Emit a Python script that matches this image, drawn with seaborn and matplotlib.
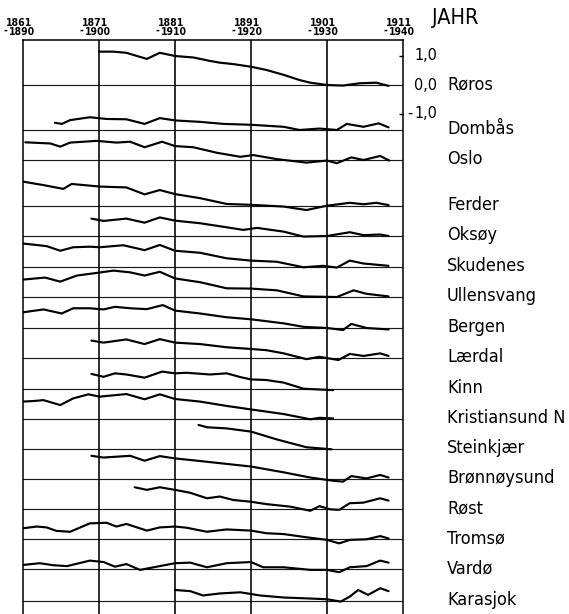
import numpy as np
import pandas as pd
import matplotlib
matplotlib.use("Agg")
import matplotlib.pyplot as plt
import seaborn as sns

# --- stations, top to bottom ---------------------------------------------
stations = ["Røros", "Dombås", "Oslo", "Ferder", "Oksøy", "Skudenes",
            "Ullensvang", "Bergen", "Lærdal", "Kinn", "Kristiansund N",
            "Steinkjær", "Brønnøysund", "Røst", "Tromsø", "Vardø", "Karasjok"]

# 30-year periods (first year / last year)
period_start = [1861, 1871, 1881, 1891, 1901, 1911]
period_end = [1890, 1900, 1910, 1920, 1930, 1940]

# scale labels on the right
scale_values = [1.0, 0.0, -1.0]
scale_labels = ["1,0", "0,0", "1,0"]

# --- moving 30-year means, deviation in °C (x = first year of period) -------
roros_years = [1871.0, 1872.9, 1874.6, 1876.0, 1877.3, 1879.0, 1881.0, 1883.4, 1885.6, 1886.9,
               1888.7, 1891.0, 1893.0, 1895.3, 1897.4, 1898.8, 1901.0, 1903.1, 1905.3, 1907.5, 1909.1]
roros_dev = [1.15, 1.15, 1.11, 1.00, 0.90, 1.11, 1.00, 0.95, 0.83, 0.77,
             0.72, 0.63, 0.52, 0.35, 0.17, 0.08, 0.00, -0.02, 0.06, 0.08, -0.03]

dombas_years = [1865.2, 1866.1, 1867.2, 1869.8, 1872.0, 1874.6, 1877.0, 1879.0, 1881.0, 1884.3,
                1887.4, 1891.0, 1895.3, 1897.4, 1900.0, 1902.3, 1903.6, 1905.8, 1907.8, 1909.1]
dombas_dev = [0.25, 0.21, 0.34, 0.44, 0.38, 0.37, 0.21, 0.41, 0.33, 0.28,
              0.21, 0.18, 0.11, 0.00, 0.05, 0.00, 0.21, 0.11, 0.23, 0.09]

oslo_years = [1861.3, 1864.6, 1865.9, 1867.2, 1870.7, 1873.3, 1875.1, 1877.0, 1879.3, 1881.0, 1883.4,
              1886.5, 1889.6, 1891.3, 1894.4, 1898.3, 1901.0, 1902.3, 1904.2, 1905.8, 1908.0, 1909.2]
oslo_dev = [0.61, 0.57, 0.46, 0.60, 0.66, 0.60, 0.63, 0.44, 0.63, 0.48, 0.44,
            0.25, 0.11, 0.17, 0.03, -0.09, -0.02, -0.11, 0.09, 0.00, 0.14, -0.02]

ferder_years = [1861.0, 1863.7, 1866.3, 1867.4, 1871.1, 1874.6, 1877.0, 1879.0, 1881.0, 1884.3,
                1887.8, 1891.0, 1895.3, 1898.3, 1901.0, 1904.0, 1905.8, 1907.5, 1909.1]
ferder_dev = [0.83, 0.71, 0.58, 0.75, 0.66, 0.63, 0.39, 0.54, 0.40, 0.26,
              0.06, 0.03, -0.03, -0.15, 0.00, 0.10, 0.05, 0.10, 0.02]

oksoy_years = [1870.0, 1871.6, 1874.6, 1877.0, 1879.0, 1881.0, 1884.3, 1887.8, 1890.0,
               1891.8, 1895.3, 1897.9, 1901.0, 1904.0, 1905.8, 1908.0, 1909.1]
oksoy_dev = [0.60, 0.52, 0.60, 0.46, 0.64, 0.53, 0.44, 0.30, 0.21,
             0.28, 0.15, -0.02, 0.00, 0.13, 0.03, 0.05, 0.00]

skudenes_years = [1861.0, 1864.1, 1865.9, 1867.6, 1869.8, 1871.1, 1874.2, 1877.0, 1879.0, 1881.0,
                  1884.3, 1887.8, 1891.0, 1894.4, 1897.9, 1900.5, 1902.3, 1904.0, 1905.8, 1909.1]
skudenes_dev = [0.80, 0.71, 0.55, 0.67, 0.69, 0.67, 0.74, 0.57, 0.75, 0.55,
                0.48, 0.29, 0.21, 0.17, -0.02, 0.03, -0.03, 0.21, 0.11, 0.03]

ullensvang_years = [1861.0, 1863.9, 1865.9, 1868.1, 1870.7, 1872.9, 1875.1, 1877.0, 1879.0, 1881.0,
                    1884.3, 1887.8, 1891.0, 1894.4, 1897.9, 1902.3, 1904.5, 1906.2, 1909.1]
ullensvang_dev = [0.60, 0.67, 0.53, 0.74, 0.83, 0.91, 0.85, 0.74, 0.87, 0.64,
                  0.51, 0.30, 0.29, 0.23, 0.02, 0.00, 0.23, 0.11, 0.02]

bergen_years = [1861.0, 1863.7, 1866.1, 1867.6, 1869.8, 1871.6, 1873.1, 1875.1, 1877.3, 1879.4, 1881.0,
                1884.3, 1887.8, 1891.0, 1895.3, 1897.9, 1901.0, 1903.1, 1904.2, 1906.2, 1909.1]
bergen_dev = [0.53, 0.63, 0.49, 0.67, 0.67, 0.63, 0.72, 0.67, 0.64, 0.78, 0.59,
              0.49, 0.36, 0.29, 0.15, 0.03, -0.01, -0.08, 0.13, -0.01, -0.06]

laerdal_years = [1870.0, 1871.6, 1874.6, 1877.0, 1879.0, 1881.0, 1884.3, 1887.8, 1891.0,
                 1893.0, 1895.3, 1898.3, 1900.0, 1902.5, 1904.0, 1905.8, 1908.0, 1909.1]
laerdal_dev = [0.59, 0.52, 0.63, 0.47, 0.64, 0.52, 0.47, 0.36, 0.30,
               0.26, 0.15, -0.05, 0.03, -0.08, 0.13, 0.06, 0.15, 0.06]

kinn_years = [1870.0, 1871.6, 1873.1, 1874.6, 1877.0, 1879.3, 1881.0, 1882.5,
              1885.6, 1887.8, 1889.6, 1891.0, 1893.0, 1895.3, 1897.9, 1901.8]
kinn_dev = [0.51, 0.41, 0.53, 0.49, 0.38, 0.59, 0.53, 0.55,
            0.49, 0.53, 0.40, 0.32, 0.30, 0.21, 0.00, -0.05]

kristiansund_years = [1861.0, 1862.4, 1863.7, 1865.9, 1867.6, 1869.6, 1871.1, 1874.6, 1877.0,
                      1879.0, 1881.0, 1884.3, 1887.8, 1891.0, 1895.3, 1898.8, 1900.0, 1901.8]
kristiansund_dev = [0.59, 0.61, 0.64, 0.47, 0.70, 0.84, 0.76, 0.85, 0.67,
                    0.84, 0.68, 0.59, 0.44, 0.32, 0.16, -0.02, 0.03, 0.01]

steinkjaer_years = [1884.1, 1885.2, 1887.8, 1891.0, 1894.4, 1898.3, 1901.6]
steinkjaer_dev = [0.83, 0.75, 0.71, 0.60, 0.33, 0.06, -0.01]

bronnoysund_years = [1870.0, 1871.6, 1875.1, 1877.0, 1879.0, 1881.0, 1884.3, 1887.8, 1891.0,
                     1895.3, 1898.8, 1901.8, 1903.1, 1904.2, 1906.2, 1908.0, 1909.1]
bronnoysund_dev = [0.80, 0.74, 0.80, 0.63, 0.79, 0.71, 0.62, 0.52, 0.43,
                   0.23, 0.05, -0.06, -0.09, 0.10, 0.02, 0.14, 0.05]

rost_years = [1875.7, 1877.3, 1879.0, 1881.0, 1883.0, 1885.2, 1886.9, 1888.7, 1891.0, 1893.0,
              1896.2, 1898.8, 1900.0, 1901.4, 1902.6, 1904.0, 1905.8, 1908.0, 1909.1]
rost_dev = [0.76, 0.67, 0.76, 0.67, 0.57, 0.38, 0.44, 0.32, 0.26, 0.18,
            0.09, -0.05, 0.11, 0.00, -0.02, 0.21, 0.23, 0.38, 0.30]

tromso_years = [1861.0, 1862.8, 1864.1, 1865.4, 1867.2, 1869.8, 1872.0, 1873.3, 1874.6, 1877.3,
                1879.0, 1881.0, 1882.5, 1885.2, 1887.8, 1891.0, 1893.0, 1895.3, 1898.3, 1901.0,
                1902.6, 1904.0, 1906.2, 1908.0, 1909.1]
tromso_dev = [0.38, 0.44, 0.41, 0.29, 0.26, 0.55, 0.57, 0.44, 0.53, 0.30,
              0.41, 0.44, 0.40, 0.26, 0.34, 0.30, 0.21, 0.18, 0.07, -0.02,
              -0.14, -0.02, 0.00, 0.11, 0.03]

vardo_years = [1861.0, 1863.2, 1865.0, 1866.8, 1869.8, 1871.6, 1873.1, 1874.6, 1876.4, 1878.6,
               1881.0, 1883.0, 1885.2, 1887.8, 1891.0, 1892.6, 1895.3, 1898.8, 1901.0, 1902.6,
               1904.0, 1906.2, 1908.0, 1909.1]
vardo_dev = [0.15, 0.21, 0.14, 0.11, 0.30, 0.25, 0.09, 0.18, -0.02, 0.09,
             0.21, 0.23, 0.07, 0.21, 0.25, 0.07, 0.07, -0.02, -0.02, -0.10,
             0.07, 0.11, 0.30, 0.23]

karasjok_years = [1881.0, 1883.0, 1884.7, 1886.9, 1889.6, 1892.2, 1895.3, 1898.3, 1901.0,
                  1902.8, 1904.0, 1905.1, 1906.4, 1908.0, 1909.1]
karasjok_dev = [0.37, 0.33, 0.18, 0.25, 0.29, 0.18, 0.11, 0.08, 0.05,
                -0.03, 0.14, 0.37, 0.20, 0.43, 0.33]

series_years = [roros_years, dombas_years, oslo_years, ferder_years, oksoy_years,
                skudenes_years, ullensvang_years, bergen_years, laerdal_years, kinn_years,
                kristiansund_years, steinkjaer_years, bronnoysund_years, rost_years,
                tromso_years, vardo_years, karasjok_years]
series_dev = [roros_dev, dombas_dev, oslo_dev, ferder_dev, oksoy_dev,
              skudenes_dev, ullensvang_dev, bergen_dev, laerdal_dev, kinn_dev,
              kristiansund_dev, steinkjaer_dev, bronnoysund_dev, rost_dev,
              tromso_dev, vardo_dev, karasjok_dev]

# --- layout (pixels on a 569 x 614 canvas) ---------------------------------
W, H = 569, 614
FRAME_LEFT, FRAME_RIGHT, FRAME_TOP = 23, 403, 40
PX_PER_DEG = 29.0
ROW_REF = 85.0                      # baseline of the first row
row_px = [85, 130, 160, 205.7, 236, 266.7, 297, 327.7, 357.7, 388.7,
          418.7, 449, 479, 509.3, 539.3, 569.3, 600.7]
row_offset = [(ROW_REF - p) / PX_PER_DEG for p in row_px]

sns.set_theme(style="white")
plt.rcParams["font.family"] = ["DejaVu Sans"]
FONT = dict(family=["DejaVu Sans"], fontstretch="condensed", color="black")

fig = plt.figure(figsize=(W / 100, H / 100), dpi=100)
fig.patch.set_facecolor("white")
ax = fig.add_axes([FRAME_LEFT / W, 0, (FRAME_RIGHT - FRAME_LEFT) / W, (H - FRAME_TOP) / H])
ax.set_facecolor("white")

records = []
for name, yrs, dev, off in zip(stations, series_years, series_dev, row_offset):
    for yr, d in zip(yrs, dev):
        records.append((name, yr, off + d))
df = pd.DataFrame(records, columns=["station", "year", "value"])

# reference baselines and decade grid
for off in row_offset:
    ax.axhline(off, color="#1a1a1a", lw=0.85, zorder=1)
for yr in period_start[1:-1]:
    ax.axvline(yr, color="black", lw=1.15, zorder=1)

sns.lineplot(data=df, x="year", y="value", units="station", estimator=None,
             sort=False, color="black", lw=1.55, ax=ax, legend=False, zorder=3)

ax.set_xlim(period_start[0], period_start[-1])
ax.set_ylim((ROW_REF - H) / PX_PER_DEG, (ROW_REF - FRAME_TOP) / PX_PER_DEG)
ax.set_xlabel("")
ax.set_ylabel("")
ax.set_xticks([])
for side in ("left", "right", "top"):
    ax.spines[side].set_visible(True)
    ax.spines[side].set_color("black")
    ax.spines[side].set_linewidth(1.1)
ax.spines["bottom"].set_visible(False)
ax.yaxis.tick_right()
ax.set_yticks([v for v in scale_values if v != 0])
ax.set_yticklabels([])
ax.tick_params(axis="y", which="both", direction="in", length=3, width=1.0,
               color="black", right=True, left=False)


def year_px(yr):
    return FRAME_LEFT + (yr - period_start[0]) / (period_start[-1] - period_start[0]) * (FRAME_RIGHT - FRAME_LEFT)


def ftext(x, y, s, **kw):
    return fig.text(x / W, 1 - y / H, s, **kw)


# period labels above the frame
for a, b in zip(period_start, period_end):
    xp = year_px(a)
    ftext(xp - 4, 23, f"{a}", ha="center", va="center", fontsize=7.5, fontweight="bold", **FONT)
    ftext(xp - 1, 32, f"{b}", ha="center", va="center", fontsize=7.5, fontweight="bold", **FONT)
    ftext(xp - 18, 31, "-", ha="center", va="center", fontsize=7.5, fontweight="bold", **FONT)

ftext(432, 18, "JAHR", ha="left", va="center", fontsize=15.5, **FONT)

# temperature scale next to the first row
for v, s in zip(scale_values, scale_labels):
    yp = ROW_REF - v * PX_PER_DEG
    ftext(414, yp, s, ha="left", va="center", fontsize=11.5, **FONT)
ftext(410, ROW_REF + PX_PER_DEG - 1, "-", ha="center", va="center", fontsize=11.5, **FONT)

# station names, sized so the longest one spans about 118 px
labels = []
for name, p in zip(stations, row_px):
    labels.append(ftext(447, p + 4, name, ha="left", va="baseline", fontsize=13, **FONT))

fig.canvas.draw()
renderer = fig.canvas.get_renderer()
widest = max(t.get_window_extent(renderer).width for t in labels)
size = min(14.0, 13 * 118.0 / widest)
for t in labels:
    t.set_fontsize(size)

fig.savefig("out.png", dpi=100, facecolor="white")
